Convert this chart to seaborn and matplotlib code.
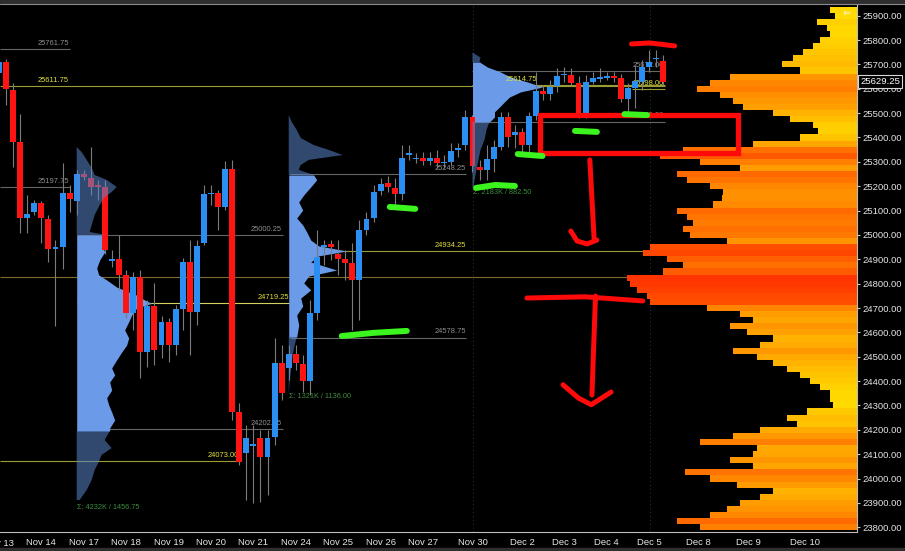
import numpy as np
import matplotlib
matplotlib.use("Agg")
import matplotlib.pyplot as plt
import matplotlib.transforms as mtransforms
from matplotlib.patches import Rectangle
from matplotlib.ticker import FormatStrFormatter
import seaborn as sns

# ---- 4h candles, x = bar index ----
opens = [25665, 25711, 25595, 25380, 25069, 25094, 25132, 25067, 24941, 24952,
         25172, 25139, 25250, 25235, 25205, 25198, 24893, 24901, 24836, 24680,
         24827, 24519, 24708, 24548, 24643, 24548, 24696, 24889, 24684, 24967,
         25168, 25172, 25115, 25271, 24273, 24105, 24134, 24166, 24089, 24171,
         24474, 24454, 24511, 24470, 24400, 24680, 24950, 24963, 24922, 24901,
         24885, 24815, 25020, 25069, 25180, 25213, 25193, 25168, 25328, 25312,
         25316, 25304, 25316, 25295, 25299, 25349, 25369, 25484, 25279, 25267,
         25312, 25361, 25484, 25410, 25423, 25369, 25488, 25591, 25579, 25611,
         25657, 25657, 25624, 25501, 25628, 25640, 25644, 25652, 25644, 25558,
         25603, 25628, 25689, 25722, 25714]
highs = [25726, 25722, 25624, 25496, 25164, 25143, 25139, 25082, 24979, 25295,
         25205, 25267, 25267, 25361, 25226, 25226, 24938, 25000, 24856, 24848,
         24856, 24733, 24803, 24667, 24659, 24712, 24905, 24979, 24979, 25205,
         25205, 25185, 25304, 25308, 24310, 24220, 24220, 24199, 24199, 24577,
         24548, 24548, 24548, 24507, 24733, 25020, 24979, 24979, 24979, 24938,
         24967, 25061, 25094, 25205, 25234, 25242, 25234, 25369, 25369, 25336,
         25340, 25340, 25349, 25328, 25377, 25377, 25513, 25492, 25308, 25369,
         25390, 25505, 25505, 25451, 25439, 25505, 25669, 25615, 25636, 25685,
         25689, 25685, 25652, 25657, 25669, 25685, 25669, 25669, 25661, 25624,
         25698, 25718, 25759, 25759, 25739]
lows = [25657, 25533, 25279, 25008, 25008, 25082, 24967, 24889, 24626, 24860,
        25094, 25082, 25226, 25164, 25143, 24922, 24868, 24774, 24659, 24610,
        24413, 24458, 24466, 24495, 24478, 24507, 24610, 24507, 24630, 24959,
        25123, 25020, 25102, 24240, 24056, 23912, 23900, 23904, 23932, 24138,
        24322, 24405, 24446, 24355, 24343, 24651, 24877, 24897, 24836, 24815,
        24610, 24651, 25000, 25053, 25164, 25176, 25123, 25143, 25308, 25295,
        25287, 25287, 25275, 25275, 25287, 25320, 25349, 25258, 25226, 25226,
        25258, 25349, 25361, 25357, 25340, 25340, 25472, 25554, 25554, 25587,
        25628, 25611, 25480, 25480, 25620, 25628, 25636, 25628, 25546, 25492,
        25521, 25595, 25669, 25689, 25615]
closes = [25711, 25598, 25383, 25068, 25086, 25132, 25068, 24944, 24952, 25171,
          25147, 25250, 25238, 25198, 25197, 24938, 24901, 24836, 24680, 24827,
          24519, 24708, 24528, 24643, 24548, 24696, 24889, 24684, 24955, 25168,
          25172, 25115, 25271, 24273, 24068, 24166, 24142, 24089, 24166, 24474,
          24351, 24511, 24474, 24400, 24680, 24909, 24959, 24950, 24901, 24885,
          24815, 25020, 25065, 25176, 25209, 25197, 25168, 25316, 25336, 25316,
          25304, 25316, 25295, 25299, 25345, 25357, 25484, 25283, 25267, 25312,
          25361, 25484, 25402, 25423, 25369, 25488, 25591, 25579, 25607, 25652,
          25661, 25624, 25501, 25628, 25644, 25648, 25652, 25644, 25558, 25603,
          25632, 25689, 25710, 25726, 25629.25]
last_price = 25629.25

# ---- time axis ----
day_ticks = [6, 12, 18, 24, 30, 36, 42, 48, 54, 60, 67, 74, 80, 86, 92, 99, 106, 114]
day_labels = ["Nov 14", "Nov 17", "Nov 18", "Nov 19", "Nov 20", "Nov 21", "Nov 24",
              "Nov 25", "Nov 26", "Nov 27", "Nov 30", "Dec 2", "Dec 3", "Dec 4",
              "Dec 5", "Dec 8", "Dec 9", "Dec 10"]

# ---- session volume profiles (price level, relative volume) ----
p1_prices = [25361, 25340, 25308, 25275, 25246, 25226, 25197, 25176, 25156, 25123,
             25082, 25041, 25012, 25000, 24979, 24959, 24930, 24897, 24864, 24836,
             24815, 24786, 24753, 24733, 24719, 24700, 24671, 24643, 24610, 24577,
             24548, 24519, 24487, 24454, 24425, 24396, 24363, 24331, 24302, 24273,
             24240, 24207, 24195, 24158, 24125, 24097, 24068, 24035, 23994, 23953, 23912]
p1_vol = [0, 5, 10, 15, 18, 30, 40, 35, 28, 23, 18, 15, 13, 30, 30, 25, 28, 23, 20, 22,
          30, 40, 60, 68, 75, 60, 55, 52, 48, 52, 50, 45, 40, 35, 38, 33, 35, 30, 32, 35,
          38, 33, 33, 28, 35, 25, 22, 18, 15, 10, 3]
p2_prices = [25492, 25464, 25431, 25398, 25369, 25349, 25328, 25308, 25287, 25267,
             25246, 25226, 25197, 25164, 25135, 25102, 25069, 25041, 25012, 24979,
             24955, 24934, 24914, 24889, 24856, 24831, 24803, 24774, 24741, 24708,
             24671, 24630, 24581, 24548, 24507, 24466, 24405, 24343]
p2_vol = [0, 3, 8, 12, 25, 40, 54, 20, 12, 10, 25, 28, 22, 15, 10, 14, 8, 14, 18, 22,
          30, 58, 30, 22, 48, 20, 15, 22, 12, 14, 8, 10, 8, 6, 4, 3, 1, 0]
p3_prices = [25749, 25728, 25710, 25689, 25669, 25648, 25628, 25607, 25587, 25566,
             25546, 25525, 25505, 25484, 25464, 25431, 25390, 25349, 25308, 25267,
             25226, 25193]
p3_vol = [0, 8, 7, 15, 28, 38, 55, 70, 48, 37, 32, 27, 22, 22, 17, 14, 12, 8, 6, 4, 2, 1]
profile_start = [11.0, 41.0, 67.0]
profile_vah = [25000, 25246, 25710]
profile_val = [24195, 24581, 25464]
profile_sum = ["Σ: 4232K / 1456.75", "Σ: 1321K / 1136.00", "Σ: 2183K / 882.50"]
profile_sum_y = [23880, 24337, 25173]

# ---- composite profile on the right ----
rp_prices = np.arange(25925, 23775, -25)
rp_vol = [27, 22, 40, 30, 27, 37, 44, 54, 64, 75,
          57, 127, 147, 160, 137, 124, 114, 84, 67, 44,
          39, 57, 104, 174, 197, 157, 117, 180, 170, 147,
          134, 135, 144, 180, 170, 164, 174, 167, 130, 207,
          214, 190, 174, 194, 230, 227, 220, 210, 207, 150,
          117, 104, 127, 110, 84, 97, 124, 100, 84, 70,
          57, 47, 37, 27, 27, 24, 50, 70, 60, 97,
          124, 157, 100, 104, 127, 104, 172, 147, 120, 84,
          97, 117, 130, 147, 180, 157]

# ---- horizontal levels ----
level_prices = [25761.75, 25611.75, 25197.75, 25000.25, 24826.00, 24719.25, 24202.25,
                24073.00, 25248.25, 24934.25, 24578.75, 25614.75, 25672.00, 25598.00, 25465.00]
level_kind = ["gray", "yellow", "gray", "gray", "olive", "bright", "gray",
              "yellow", "gray", "yellow", "gray", "yellow", "gray", "yellow", "gray"]
level_from = [0.15, 0.15, 0.15, 11.0, 0.15, 11.0, 11.0, 0.15, 41.2, 41.2, 41.2, 67.0, 67.0, 89.6, 67.0]
level_to = [10.0, 94.2, 10.0, 40.2, 121.4, 41.2, 40.2, 34.1, 66.1, 121.4, 66.1, 94.2, 94.2, 94.2, 94.2]
label_at = [9.9, 9.9, 9.9, 40.0, None, 41.0, 40.0, 34.0, 66.1, 66.1, 66.1, 76.2, 94.1, 94.1, 94.1]

# ---- hand drawn marks (bar index, price) ----
red_strokes = [
    [(89.5, 25784), (92.1, 25788), (95.6, 25776)],
    [(83.6, 25308), (84.2, 24987)],
    [(80.9, 25016), (81.8, 24975), (83.2, 24963), (84.6, 24979)],
    [(74.7, 24741), (82.9, 24746), (91.1, 24729)],
    [(84.4, 24749), (83.9, 24343)],
    [(79.8, 24385), (82.0, 24330), (83.8, 24303), (86.6, 24355)],
]
red_box = (76.5, 25336, 104.5, 25492)
green_strokes = [
    [(67.5, 25193), (70.2, 25205), (73.0, 25201)],
    [(73.4, 25332), (76.9, 25324)],
    [(81.5, 25427), (84.6, 25423)],
    [(88.5, 25496), (91.7, 25492)],
    [(55.3, 25115), (58.9, 25107)],
    [(48.5, 24585), (53.0, 24598), (57.7, 24606)],
]

BAR_PX = 7.07  # width of one bar in pixels, scales profile volumes to bars
UP, DOWN = "#2b8ef2", "#ff1414"
VA_BLUE, OUT_BLUE = "#6a9ae8", "#5a86cc"
LINE_COL = {"gray": "#666666", "yellow": "#9c9c34", "bright": "#d2d25c", "olive": "#7d6c2c"}
TEXT_COL = {"gray": "#8e8e8e", "yellow": "#e2e23a", "bright": "#e2e23a", "olive": "#8e8e8e"}

sns.set_theme(style="dark", rc={"axes.facecolor": "black", "figure.facecolor": "black",
                                "axes.grid": False})
plt.rcParams["font.family"] = ["Liberation Sans", "DejaVu Sans"]

fig = plt.figure(figsize=(9.05, 5.51), dpi=100)
ax = fig.add_axes([0, 19.3 / 551, 857 / 905, 526.7 / 551])
ax.set_facecolor("black")
XMAX = 121.4
ax.set_xlim(0.15, XMAX)
ax.set_ylim(23781.7, 25943.9)

# faint session separators
for xv in (67.05, 92.1):
    ax.axvline(xv, color="#24402a", lw=0.7, ls=(0, (1, 3)), zorder=0.5)

# levels
for p, k, x0, x1, lx in zip(level_prices, level_kind, level_from, level_to, label_at):
    ax.hlines(p, x0, x1, color=LINE_COL[k], lw=0.8, zorder=1)
    if lx is not None:
        ax.text(lx, p + 9, f"{p:.2f}", ha="right", va="bottom", fontsize=5.4,
                color=TEXT_COL[k], zorder=2.5)

# right composite profile
cmap = sns.blend_palette(["#ffdc00", "#ffae00", "#ff7c00", "#ff3000"], as_cmap=True)
rv = np.asarray(rp_vol, float)
rw = rv / BAR_PX
ax.barh(rp_prices, rw, left=XMAX - rw, height=25, color=cmap((rv - 20) / 215),
        linewidth=0, zorder=1.2)

# session profiles
for prices, vols, x0, vah, val in zip([p1_prices, p2_prices, p3_prices],
                                      [p1_vol, p2_vol, p3_vol],
                                      profile_start, profile_vah, profile_val):
    p = np.asarray(prices, float)
    w = x0 + np.asarray(vols, float) / BAR_PX
    inside = (p <= vah) & (p >= val)
    ax.fill_betweenx(p, x0, w, where=inside, color=VA_BLUE, lw=0, zorder=1.8)
    outside = ~inside | (p == vah) | (p == val)
    ax.fill_betweenx(p, x0, w, where=outside, color=OUT_BLUE, alpha=0.55, lw=0, zorder=4)

for x0, txt, yv in zip(profile_start, profile_sum, profile_sum_y):
    ax.text(x0 + 0.1, yv, txt, ha="left", va="center", fontsize=5.3, color="#3c8c3c", zorder=5)

# candles
idx = np.arange(len(opens))
o, h, l, c = map(np.asarray, (opens, highs, lows, closes))
cols = np.where(c >= o, UP, DOWN)
ax.vlines(idx, l, h, color="#7c7c7c", lw=0.8, zorder=2.8)
body_h = np.maximum(np.abs(c - o), 4)
ax.bar(idx, body_h, bottom=np.minimum(o, c), width=0.84, color=cols, linewidth=0, zorder=3)

# hand drawn marks
for s in red_strokes:
    xs, ys = zip(*s)
    ax.plot(xs, ys, color="#ff0a0a", lw=3.6, solid_capstyle="round",
            solid_joinstyle="round", zorder=10)
bx0, by0, bx1, by1 = red_box
ax.add_patch(Rectangle((bx0, by0), bx1 - bx0, by1 - by0, fill=False,
                       ec="#ff0a0a", lw=3.8, zorder=10))
for s in green_strokes:
    xs, ys = zip(*s)
    ax.plot(xs, ys, color="#3cf51e", lw=4.3, solid_capstyle="round", zorder=10)

# axes
ax.yaxis.tick_right()
ax.set_yticks(np.arange(23800, 25901, 100))
ax.yaxis.set_major_formatter(FormatStrFormatter("%.2f"))
ax.set_xticks(day_ticks)
ax.set_xticklabels(day_labels)
ax.tick_params(axis="y", which="major", direction="out", length=2.2, width=0.8,
               color="#c8c8c8", labelsize=6.8, labelcolor="#e6e6e6", pad=1.6,
               right=True, left=False, labelright=True, labelleft=False)
ax.tick_params(axis="x", which="major", direction="out", length=2.2, width=0.8,
               color="#c8c8c8", labelsize=6.8, labelcolor="#e6e6e6", pad=2.2)
# first day label, only partly inside the window as in the source
ax.text(0, -0.0215, "Nov 13", transform=ax.get_xaxis_transform(), ha="center",
        va="center", fontsize=6.8, color="#e6e6e6", clip_on=False)
for side in ("top", "left"):
    ax.spines[side].set_visible(False)
for side in ("right", "bottom"):
    ax.spines[side].set_color("#bdbdbd")
    ax.spines[side].set_linewidth(0.8)

blend = mtransforms.blended_transform_factory(ax.transAxes, ax.transData)
ax.annotate(f"{last_price:.2f}", xy=(1, last_price), xycoords=blend, xytext=(2.4, 0),
            textcoords="offset points", ha="left", va="center", fontsize=6.8, color="white",
            bbox=dict(boxstyle="square,pad=0.22", fc="black", ec="#d8d8d8", lw=0.8),
            zorder=20, annotation_clip=False)

# window chrome
fig.add_artist(Rectangle((0, 1 - 3 / 551), 1, 3 / 551, transform=fig.transFigure,
                         color="#2e2e2e", zorder=0))
fig.add_artist(plt.Line2D([0, 1], [1 - 3.8 / 551] * 2, transform=fig.transFigure,
                          color="#8a8a8a", lw=0.8))
fig.add_artist(Rectangle((0, 0), 1, 3 / 551, transform=fig.transFigure,
                         color="#2e2e2e", zorder=0))
fig.text(847 / 905, 1 - 13 / 551, "⇐", color="#fff6c8", fontsize=7, ha="center",
         va="center", family="DejaVu Sans")

fig.savefig("out.png", dpi=100, facecolor="black")
